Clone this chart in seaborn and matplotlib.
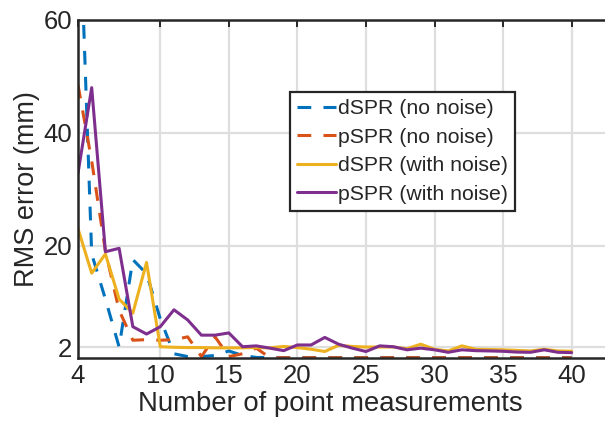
import pandas as pd
import seaborn as sns
import matplotlib.pyplot as plt

# === DATA ===
n_points = list(range(4, 41))

dspr_clean = [88, 18.5, 10.5, 2.0, 17.5, 15.0, 7.0, 0.8, 0.3, 0.3, 0.5, 1.3, 0.5, 0.15,
              0.12, 0.12, 0.12, 0.12, 0.12, 0.12, 0.12, 0.12, 0.12, 0.12, 0.12, 0.12,
              0.12, 0.12, 0.12, 0.12, 0.12, 0.12, 0.12, 0.12, 0.12, 0.12, 0.12]
pspr_clean = [48.5, 35.0, 19.0, 8.5, 3.2, 3.3, 3.2, 3.3, 3.8, 0.3, 3.8, 0.3, 0.8, 1.8,
              0.1, 0.1, 0.1, 0.1, 0.1, 0.1, 0.1, 0.1, 0.1, 0.1, 0.1, 0.1,
              0.1, 0.1, 0.1, 0.1, 0.1, 0.1, 0.1, 0.1, 0.1, 0.1, 0.1]
dspr_noise = [23.0, 15.1, 18.5, 10.5, 8.0, 17.0, 2.05, 1.95, 1.9, 1.9, 1.85, 1.85, 1.85,
              1.9, 1.85, 2.1, 1.9, 1.6, 1.2, 2.3, 2.1, 2.0, 2.0, 2.0, 1.7, 2.5, 1.6,
              1.3, 2.2, 1.6, 1.55, 1.5, 1.4, 1.3, 1.6, 1.3, 1.25]
pspr_noise = [32.8, 48.0, 18.9, 19.5, 5.6, 4.3, 5.6, 8.6, 6.8, 4.1, 4.1, 4.5, 2.05, 2.2,
              1.8, 1.35, 2.36, 2.36, 3.7, 2.5, 1.8, 1.2, 2.2, 2.05, 1.5, 1.8, 1.5,
              1.06, 1.5, 1.35, 1.3, 1.24, 1.1, 1.06, 1.5, 1.06, 1.0]

series_names = ["dSPR (no noise)", "pSPR (no noise)", "dSPR (with noise)", "pSPR (with noise)"]
series_values = [dspr_clean, pspr_clean, dspr_noise, pspr_noise]
series_colors = ["#0072BD", "#D95319", "#EDB120", "#7E2F8E"]
series_styles = [(0, (4.5, 4.0)), (0, (4.5, 4.0)), "-", "-"]

x_ticks = [4, 10, 15, 20, 25, 30, 35, 40]
y_ticks = [2, 20, 40, 60]

sns.set_theme(style="white")
plt.rcParams["font.family"] = ["Liberation Sans", "DejaVu Sans"]

fig = plt.figure(figsize=(6.05, 4.28), dpi=100, facecolor="white")
ax = fig.add_axes([0.1289, 0.1629, 0.8726, 0.7904])

for name, vals, col, ls in zip(series_names, series_values, series_colors, series_styles):
    df = pd.DataFrame({"n": n_points, "rms": vals})
    sns.lineplot(data=df, x="n", y="rms", ax=ax, color=col, linestyle=ls,
                 linewidth=2.2, label=name)

ax.set_xlim(4, 42.5)
ax.set_ylim(0, 60)
ax.set_xticks(x_ticks)
ax.set_yticks(y_ticks)
ax.grid(True, color="#dedede", linewidth=1.6)
ax.set_axisbelow(True)

for side in ["left", "bottom", "top"]:
    ax.spines[side].set_visible(True)
    ax.spines[side].set_color("#262626")
    ax.spines[side].set_linewidth(1.8)
ax.spines["right"].set_visible(False)

ax.tick_params(axis="both", direction="in", length=5, width=1.4, color="#262626",
               labelsize=18.5, labelcolor="#262626", pad=4, top=True)

ax.set_xlabel("Number of point measurements", fontsize=19.8, color="#262626")
ax.xaxis.set_label_coords(0.478, -0.097)
ax.set_ylabel("RMS error (mm)", fontsize=19.5, color="#262626", labelpad=3)

leg = ax.legend(loc="upper left", bbox_to_anchor=(290 / 605, 1 - 91.7 / 428),
                bbox_transform=fig.transFigure, borderaxespad=0, fontsize=15.3,
                frameon=True, fancybox=False, edgecolor="#262626", framealpha=1,
                handlelength=1.8, handletextpad=0.1, labelspacing=0.45, borderpad=0.35)
leg.get_frame().set_linewidth(1.6)

plt.savefig("out.png", dpi=100)
